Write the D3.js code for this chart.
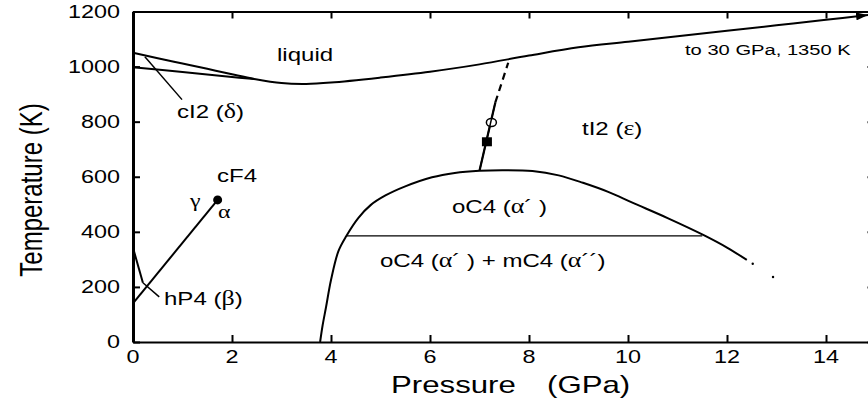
<!DOCTYPE html>
<html lang="en">
<head>
<meta charset="UTF-8">
<title>Ce phase diagram</title>
<script src="https://cdn.jsdelivr.net/npm/d3@7"></script>
<style>
body{margin:0;background:#fff;}
text{font-family:"Liberation Sans",Arial,Helvetica,sans-serif;fill:#000;}
.gr{font-family:"Liberation Serif","Times New Roman",serif;}
</style>
</head>
<body>
<script>
// tick values
var pTicks = [0,2,4,6,8,10,12,14];
var tTicks = [0,200,400,600,800,1000,1200];

// melting curve (liquidus)
var meltP = [0,0.5,1,1.5,2,2.45,3,3.5,4,5,6,7,8,9,10,11,12,13,14,14.85];
var meltT = [1050,1030,1011,992,972,955,940,937,942,960,981,1008,1040,1070,1090,1110,1130,1150,1170,1187];
// delta / gamma boundary
var deltaP = [0,1,2,2.45];
var deltaT = [998,980,962,955];
// gamma - alpha line and critical point
var gaP = [0.02,1.71];
var gaT = [145,516];
var critP = [1.71], critT = [516];
// beta boundary
var betaP = [0,0.2];
var betaT = [342,215];
// alpha' dome
var domeP = [3.78,3.83,3.9,4.0,4.15,4.31,4.55,4.8,5.1,5.5,6.04,6.5,7.0,7.5,8.07,8.6,9.09,9.6,10.1,10.8,11.52,12.0,12.4];
var domeT = [0,60,127,225,330,385,450,497,532,565,598,614,622,624,621,605,578,545,505,450,389,343,298];
// alpha' + alpha'' line
var mixP = [4.31,11.5];
var mixT = [385,385];
// epsilon boundary, solid then dashed
var epsP = [7.0,7.32];
var epsT = [622,870];
var epsDashP = [7.32,7.58];
var epsDashT = [870,1014];
var squareP = [7.15], squareT = [727];
var circleP = [7.24], circleT = [797];
var dotsP = [12.52,12.93];
var dotsT = [284,236];
// leader lines [p1,t1,p2,t2]
var leaderDelta = [0.24,1036,0.99,880];
var leaderBeta = [0.2,215,0.53,164];

var width = 868, height = 403;
var svg = d3.select("body").append("svg").attr("width",width).attr("height",height);

var x = d3.scaleLinear().domain([0,15]).range([133,875.5]);
var y = d3.scaleLinear().domain([0,1200]).range([342,11.5]);

function zip(ps,ts){ return ps.map(function(p,i){ return [p,ts[i]]; }); }
var line = d3.line().x(function(d){return x(d[0]);}).y(function(d){return y(d[1]);});
var smooth = d3.line().x(function(d){return x(d[0]);}).y(function(d){return y(d[1]);}).curve(d3.curveCatmullRom.alpha(0.5));

// text helper, figure is stretched horizontally; greek letters set in serif
function txt(px,py,s,size,anchor){
	var t = svg.append("text")
		.attr("transform","translate("+px+","+py+") scale(1.3,1)")
		.attr("text-anchor",anchor||"start")
		.attr("font-size",size);
	String(s).split(/([\u0391-\u03c9])/).forEach(function(part){
		if(!part) return;
		var sp = t.append("tspan").text(part);
		if(/[\u0391-\u03c9]/.test(part)) sp.attr("class","gr").attr("font-size",size*1.08);
	});
	return t;
}

// axes
var gB = svg.append("g").attr("transform","translate(0,"+y(0)+")")
	.call(d3.axisBottom(x).tickValues(pTicks).tickSize(-7).tickSizeOuter(0).tickFormat(""));
var gT = svg.append("g").attr("transform","translate(0,"+y(1200)+")")
	.call(d3.axisTop(x).tickValues(pTicks).tickSize(-7).tickSizeOuter(0).tickFormat(""));
var gL = svg.append("g").attr("transform","translate("+x(0)+",0)")
	.call(d3.axisLeft(y).tickValues(tTicks).tickSize(-7).tickSizeOuter(0).tickFormat(""));
var gR = svg.append("g").attr("transform","translate("+x(15)+",0)")
	.call(d3.axisRight(y).tickValues(tTicks).tickSize(-8).tickSizeOuter(0).tickFormat(""));
[gB,gT,gL,gR].forEach(function(g){
	g.selectAll("path,line").attr("stroke","#000").attr("stroke-width",2);
});
gL.select(".domain").attr("stroke-width",3);

// tick labels
pTicks.forEach(function(p){ txt(x(p),363,p,18,"middle"); });
tTicks.forEach(function(t){ txt(120,y(t)+6,t,18,"end"); });

// axis titles
txt(391,393,"Pressure",24);
txt(547,393,"(GPa)",24);
svg.append("text")
	.attr("transform","translate(42,190) rotate(-90) scale(1,1.3)")
	.attr("text-anchor","middle").attr("font-size",24)
	.text("Temperature (K)");

// arrow marker
svg.append("defs").append("marker").attr("id","arr")
	.attr("viewBox","0 0 12 8").attr("refX",12).attr("refY",4)
	.attr("markerWidth",12).attr("markerHeight",8).attr("markerUnits","userSpaceOnUse")
	.attr("orient","auto")
	.append("path").attr("d","M0,0L12,4L0,8Z").attr("fill","#000");

// boundaries
var curves = svg.append("g").attr("fill","none").attr("stroke","#000");
curves.append("path").attr("d",smooth(zip(meltP,meltT))).attr("stroke-width",2).attr("marker-end","url(#arr)");
curves.append("path").attr("d",smooth(zip(deltaP,deltaT))).attr("stroke-width",2);
curves.append("path").attr("d",line(zip(gaP,gaT))).attr("stroke-width",2);
curves.append("path").attr("d",line(zip(betaP,betaT))).attr("stroke-width",2);
curves.append("path").attr("d",smooth(zip(domeP,domeT))).attr("stroke-width",2);
curves.append("path").attr("d",line(zip(mixP,mixT))).attr("stroke-width",1.2);
curves.append("path").attr("d",line(zip(epsP,epsT))).attr("stroke-width",2.2);
curves.append("path").attr("d",line(zip(epsDashP,epsDashT))).attr("stroke-width",2.2).attr("stroke-dasharray","7,5");
// leaders
curves.append("path").attr("d",line([[leaderDelta[0],leaderDelta[1]],[leaderDelta[2],leaderDelta[3]]])).attr("stroke-width",1.5);
curves.append("path").attr("d",line([[leaderBeta[0],leaderBeta[1]],[leaderBeta[2],leaderBeta[3]]])).attr("stroke-width",1.5);

// markers
svg.selectAll(".crit").data(zip(critP,critT)).enter().append("circle")
	.attr("cx",function(d){return x(d[0]);}).attr("cy",function(d){return y(d[1]);})
	.attr("r",4.5).attr("fill","#000");
svg.selectAll(".sq").data(zip(squareP,squareT)).enter().append("rect")
	.attr("x",function(d){return x(d[0])-5;}).attr("y",function(d){return y(d[1])-4.5;})
	.attr("width",10).attr("height",9).attr("fill","#000");
svg.selectAll(".oc").data(zip(circleP,circleT)).enter().append("ellipse")
	.attr("cx",function(d){return x(d[0]);}).attr("cy",function(d){return y(d[1]);})
	.attr("rx",5).attr("ry",4).attr("fill","#fff").attr("stroke","#000").attr("stroke-width",1.5);
svg.selectAll(".dt").data(zip(dotsP,dotsT)).enter().append("circle")
	.attr("cx",function(d){return x(d[0]);}).attr("cy",function(d){return y(d[1]);})
	.attr("r",1.2).attr("fill","#000");
// line through the open circle
svg.append("path").attr("d",line(zip(epsP,epsT))).attr("fill","none").attr("stroke","#000").attr("stroke-width",1.5);

// phase labels
txt(277,61,"liquid",18.5);
txt(685,55,"to 30 GPa, 1350 K",15.5);
txt(177,118,"cI2 (\u03b4)",18.5);
txt(582,135,"tI2 (\u03b5)",18.5);
txt(217,182,"cF4",18.5);
txt(190,207,"\u03b3",17);
txt(218,218,"\u03b1",17);
txt(164,305,"hP4 (\u03b2)",18.5);
txt(452,213,"oC4 (\u03b1\u00b4 )",18.5);
txt(380,267,"oC4 (\u03b1\u00b4 ) + mC4 (\u03b1\u00b4\u00b4)",18.5);
</script>
</body>
</html>
